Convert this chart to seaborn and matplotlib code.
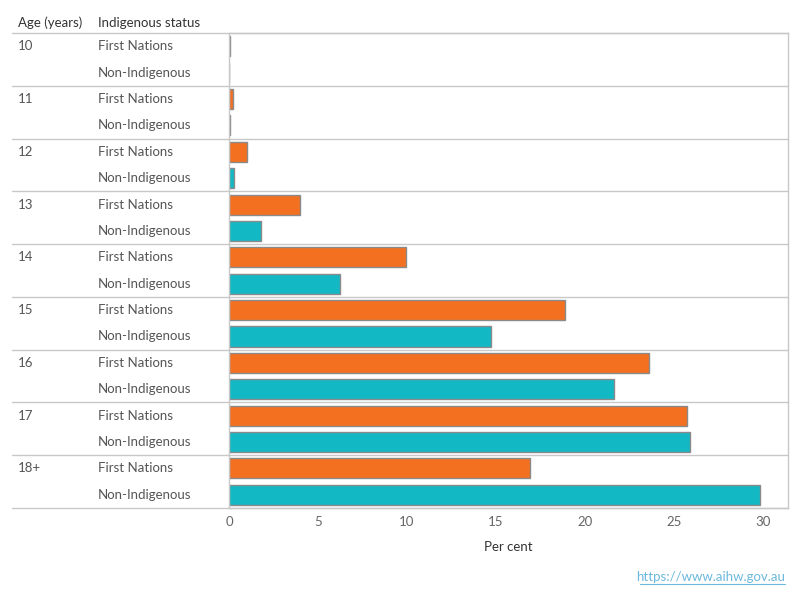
import pandas as pd
import matplotlib.pyplot as plt
import matplotlib.transforms as mtransforms
from matplotlib.lines import Line2D
import seaborn as sns

ages = ["10", "11", "12", "13", "14", "15", "16", "17", "18+"]
statuses = ["First Nations", "Non-Indigenous"]
first_nations = [0.03, 0.25, 1.0, 4.0, 9.95, 18.9, 23.6, 25.7, 16.9]
non_indigenous = [0.02, 0.03, 0.28, 1.8, 6.25, 14.7, 21.6, 25.9, 29.85]
x_ticks = [0, 5, 10, 15, 20, 25, 30]

colours = {"First Nations": "#F37021", "Non-Indigenous": "#13B8C5"}


def main():
    rows = []
    for i, age in enumerate(ages):
        rows.append({"row": f"{age} First Nations", "status": "First Nations", "value": first_nations[i]})
        rows.append({"row": f"{age} Non-Indigenous", "status": "Non-Indigenous", "value": non_indigenous[i]})
    df = pd.DataFrame(rows)

    sns.set_style("white")
    plt.rcParams["font.family"] = ["Lato", "DejaVu Sans"]

    fig = plt.figure(figsize=(8, 6), dpi=100)
    ax = fig.add_axes([229 / 800, 1 - 508 / 600, 559 / 800, 475 / 600])

    sns.barplot(data=df, x="value", y="row", hue="status", palette=colours,
                dodge=False, width=0.76, edgecolor="#8a8a8a", linewidth=1,
                saturation=1, legend=False, ax=ax)

    ax.set_xlim(0, 31.4)
    ax.set_ylim(len(df) - 0.5, -0.5)
    ax.set_yticks([])
    ax.set_ylabel("")
    ax.set_xticks(x_ticks)
    ax.set_xticklabels([str(t) for t in x_ticks], color="#666666", fontsize=9.5)
    ax.tick_params(axis="x", length=3, color="#dddddd", pad=3)
    ax.set_xlabel("Per cent", fontsize=9.5, color="#333333", labelpad=9)

    for side in ["left", "right", "top", "bottom"]:
        ax.spines[side].set_color("#c8c8c8")
        ax.spines[side].set_linewidth(1)

    # group separators across the label columns
    x0 = (12 - 229) / 559
    for k in range(len(ages) + 1):
        ax.axhline(k * 2 - 0.5, xmin=x0, xmax=1, color="#c8c8c8", lw=1, clip_on=False)

    trans = mtransforms.blended_transform_factory(fig.transFigure, ax.transData)
    for i, age in enumerate(ages):
        ax.text(18 / 800, i * 2, age, transform=trans, fontsize=9.5, color="#555555",
                va="center", ha="left")
        for j, st in enumerate(statuses):
            ax.text(98 / 800, i * 2 + j, st, transform=trans, fontsize=9.5, color="#555555",
                    va="center", ha="left")

    fig.text(18 / 800, 1 - 23 / 600, "Age (years)", fontsize=9.5, color="#333333", va="center")
    fig.text(98 / 800, 1 - 23 / 600, "Indigenous status", fontsize=9.5, color="#333333", va="center")

    fig.text(785 / 800, 1 - 577 / 600, "https://www.aihw.gov.au", fontsize=9.5,
             color="#6cb8dc", ha="right", va="center")
    # underline for the link
    fig.add_artist(Line2D([640 / 800, 785 / 800], [1 - 584 / 600, 1 - 584 / 600],
                          color="#6cb8dc", lw=0.8, transform=fig.transFigure))

    fig.savefig("out.png", dpi=100)


if __name__ == "__main__":
    main()
